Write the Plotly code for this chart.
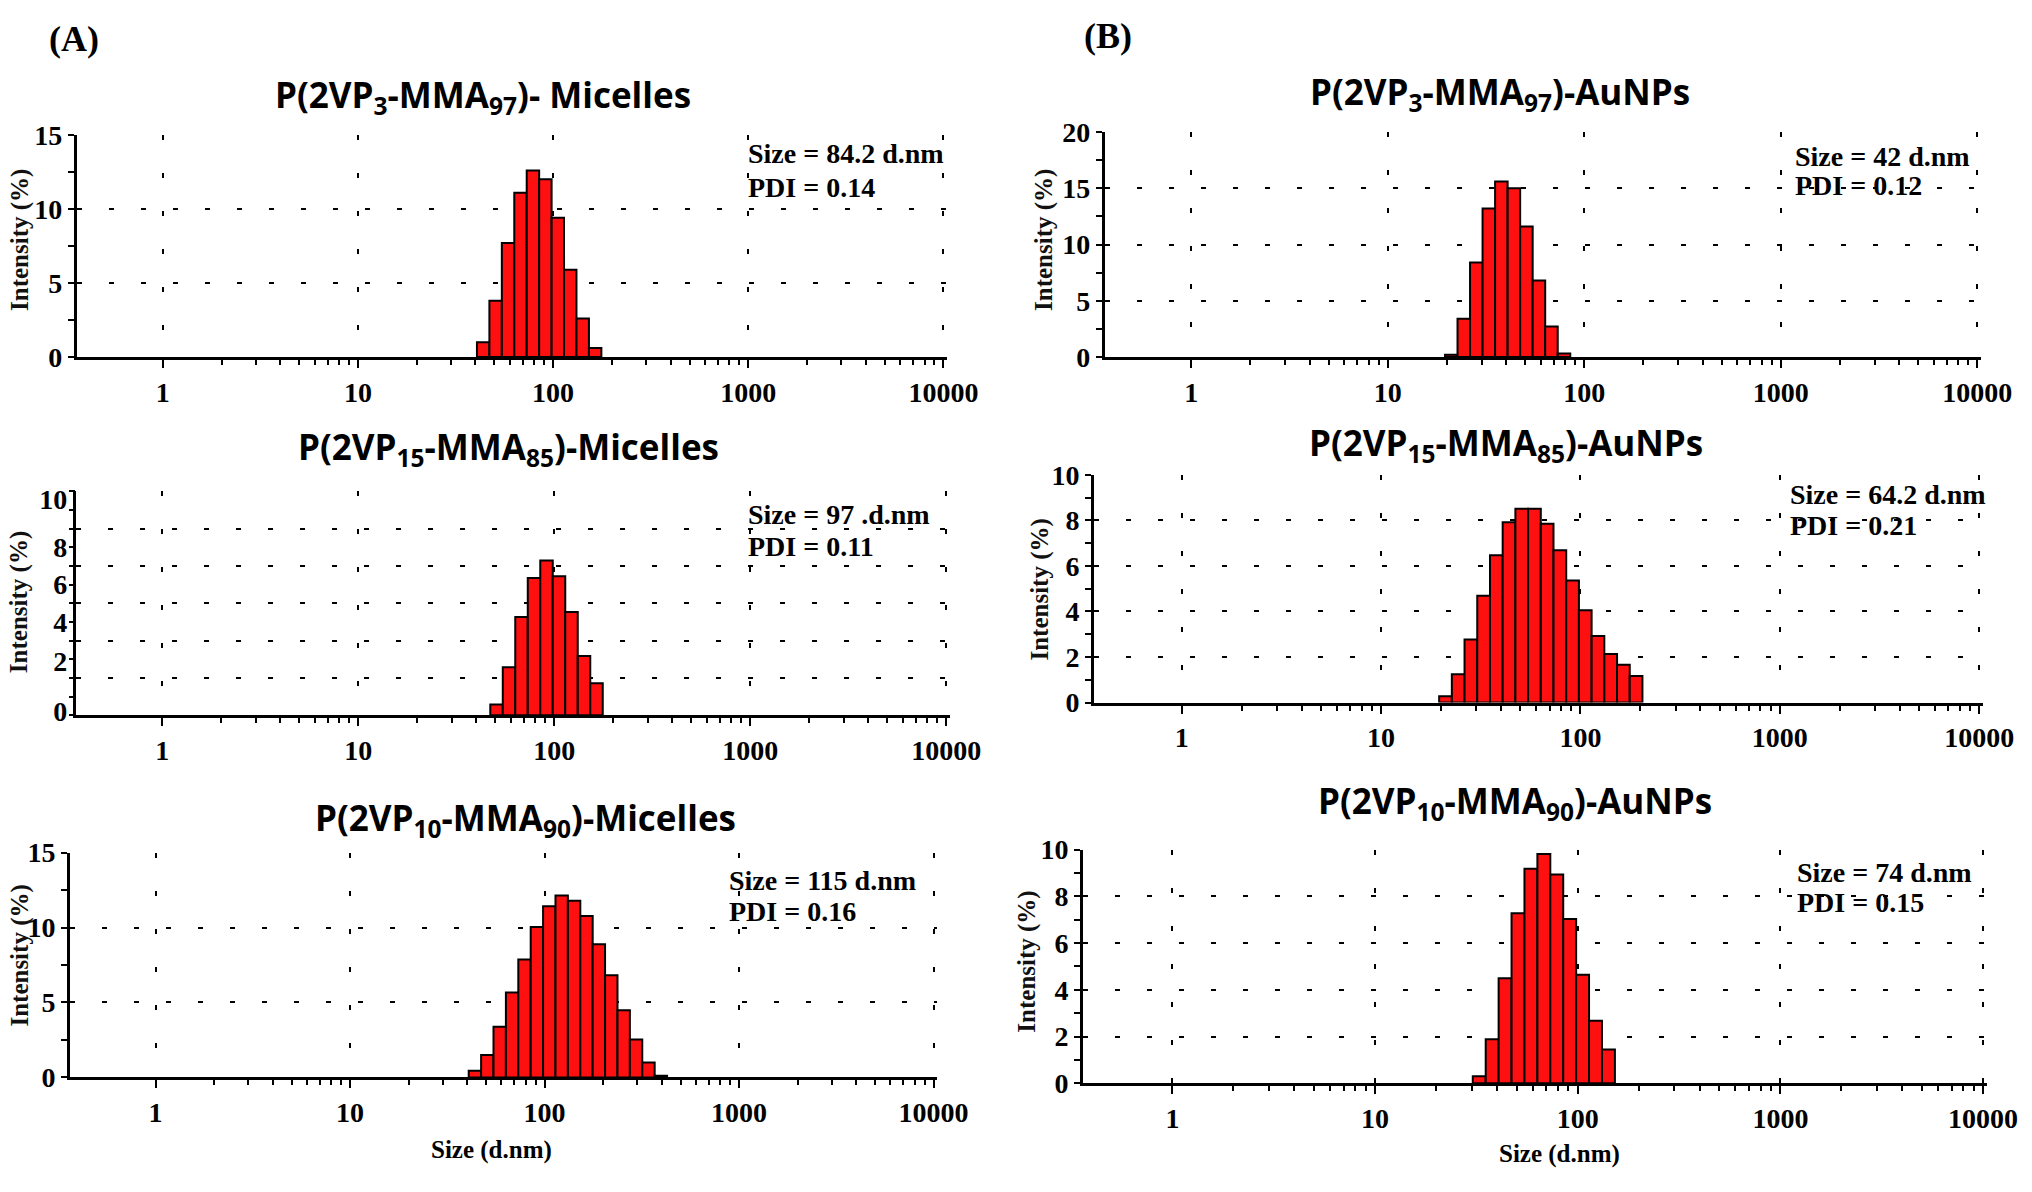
import plotly.graph_objects as go

# ---------------- data ----------------
X_TICK_VALS = [1, 10, 100, 1000, 10000]
X_TICK_TEXT = ["1", "10", "100", "1000", "10000"]

A1_SIZES = [43.82, 50.75, 58.77, 68.06, 78.82, 91.28, 105.7, 122.4, 141.8, 164.2]
A1_INT = [1.0, 3.8, 7.7, 11.1, 12.6, 12.0, 9.4, 5.9, 2.6, 0.6]

A2_SIZES = [50.75, 58.77, 68.06, 78.82, 91.28, 105.7, 122.4, 141.8, 164.2]
A2_INT = [0.58, 2.57, 5.27, 7.36, 8.29, 7.45, 5.53, 3.18, 1.71]
A2_TICK_POS = [0.2, 2.9, 5.0, 7.0, 9.0, 11.6]
A2_TICK_TEXT = ["0", "2", "4", "6", "8", "10"]

A3_SIZES = [43.82, 50.75, 58.77, 68.06, 78.82, 91.28, 105.7, 122.4, 141.8, 164.2,
            190.1, 220.2, 255.0, 295.3, 342.0, 396.1]
A3_INT = [0.44, 1.49, 3.38, 5.67, 7.87, 10.04, 11.42, 12.13, 11.78, 10.76,
          8.89, 6.82, 4.49, 2.53, 1.0, 0.11]

B1_SIZES = [21.04, 24.36, 28.21, 32.67, 37.84, 43.82, 50.75, 58.77, 68.06, 78.82]
B1_INT = [0.2, 3.4, 8.4, 13.2, 15.6, 15.0, 11.6, 6.8, 2.7, 0.3]

B2_SIZES = [21.04, 24.36, 28.21, 32.67, 37.84, 43.82, 50.75, 58.77, 68.06, 78.82,
            91.28, 105.7, 122.4, 141.8, 164.2, 190.1]
B2_INT = [0.28, 1.24, 2.77, 4.69, 6.47, 7.92, 8.51, 8.51, 7.85, 6.69,
          5.36, 4.05, 2.92, 2.13, 1.66, 1.17]

B3_SIZES = [32.67, 37.84, 43.82, 50.75, 58.77, 68.06, 78.82, 91.28, 105.7, 122.4, 141.8]
B3_INT = [0.30, 1.89, 4.49, 7.28, 9.18, 9.81, 8.94, 7.03, 4.65, 2.68, 1.45]

TITLES = [
    "P(2VP<sub>3</sub>-MMA<sub>97</sub>)- Micelles",
    "P(2VP<sub>15</sub>-MMA<sub>85</sub>)-Micelles",
    "P(2VP<sub>10</sub>-MMA<sub>90</sub>)-Micelles",
    "P(2VP<sub>3</sub>-MMA<sub>97</sub>)-AuNPs",
    "P(2VP<sub>15</sub>-MMA<sub>85</sub>)-AuNPs",
    "P(2VP<sub>10</sub>-MMA<sub>90</sub>)-AuNPs",
]
SIZE_TEXT = ["Size = 84.2 d.nm", "Size = 97 .d.nm", "Size = 115 d.nm",
             "Size = 42 d.nm", "Size = 64.2 d.nm", "Size = 74 d.nm"]
PDI_TEXT = ["PDI = 0.14", "PDI = 0.11", "PDI = 0.16",
            "PDI = 0.12", "PDI = 0.21", "PDI = 0.15"]

# Malvern size classes: 70 log-spaced bins from 0.4 to 10000 nm
BIN_RATIO = (10000 / 0.4) ** (1 / 69)

# ---------------- layout (pixel positions on the 2032x1192 page) ----------------
BODY_M = 8
W, H = 2016, 1176
PANELS = [
    dict(sizes=A1_SIZES, vals=A1_INT, x0=78, x1=962, yt=123, yb=351, ymax=15, dt=5, mn=2.5,
         tx=490, ty=83, ax=758, ay1=142, ay2=177, yx=20, yy=231),
    dict(sizes=A2_SIZES, vals=A2_INT, x0=77, x1=965, yt=489, yb=719, ymax=12, dt=2, mn=1,
         tx=516, ty=445, ax=758, ay1=513, ay2=546, yx=20, yy=603),
    dict(sizes=A3_SIZES, vals=A3_INT, x0=71, x1=952, yt=860, yb=1091, ymax=15, dt=5, mn=2.5,
         tx=534, ty=826, ax=738, ay1=889, ay2=921, yx=20, yy=966),
    dict(sizes=B1_SIZES, vals=B1_INT, x0=1122, x1=2012, yt=120, yb=351, ymax=20, dt=5, mn=2.5,
         tx=1523, ty=80, ax=1821, ay1=145, ay2=175, yx=1060, yy=231),
    dict(sizes=B2_SIZES, vals=B2_INT, x0=1111, x1=2014, yt=472, yb=706, ymax=10, dt=2, mn=1,
         tx=1529, ty=441, ax=1816, ay1=492, ay2=524, yx=1056, yy=590),
    dict(sizes=B3_SIZES, vals=B3_INT, x0=1100, x1=2018, yt=857, yb=1097, ymax=10, dt=2, mn=1,
         tx=1539, ty=809, ax=1823, ay1=881, ay2=911, yx=1043, yy=972),
]

SERIF = "Liberation Serif"
SANS = "Open Sans"
GRID_H = "5px,27px"
GRID_V = "5px,33px"
MINOR_X = [d * 10 ** e for e in range(0, 4) for d in range(2, 10)]
TICK_FONT = dict(family=SERIF, size=28, color="black", weight="bold")


def px(x):
    return (x - BODY_M) / W


def py(y):
    return 1 - (y - BODY_M) / H


fig = go.Figure()
annotations = []
layout = dict(width=W, height=H, margin=dict(l=0, r=0, t=0, b=0),
              paper_bgcolor="white", plot_bgcolor="white", showlegend=False)

for i, p in enumerate(PANELS, start=1):
    lo = [s / BIN_RATIO ** 0.5 for s in p["sizes"]]
    hi = [s * BIN_RATIO ** 0.5 for s in p["sizes"]]
    fig.add_trace(go.Bar(
        x=[(a + b) / 2 for a, b in zip(lo, hi)], y=p["vals"],
        width=[b - a for a, b in zip(lo, hi)],
        marker=dict(color="#ff1010", line=dict(color="black", width=2)),
        xaxis=f"x{i}", yaxis=f"y{i}", hoverinfo="skip"))

    xa = dict(type="log", domain=[px(p["x0"]), px(p["x1"])], anchor=f"y{i}",
              range=[-0.44, 4.02], tickmode="array", tickvals=X_TICK_VALS, ticktext=X_TICK_TEXT,
              ticks="outside", ticklen=8, tickwidth=2, tickcolor="black",
              minor=dict(tickmode="array", tickvals=MINOR_X, ticks="outside", ticklen=5,
                         tickwidth=2, tickcolor="black", showgrid=False),
              showgrid=True, gridcolor="black", gridwidth=2, griddash=GRID_V,
              showline=True, linecolor="black", linewidth=3, zeroline=False,
              tickfont=TICK_FONT, fixedrange=True)
    ya = dict(domain=[py(p["yb"]), py(p["yt"])], anchor=f"x{i}", range=[0, p["ymax"]],
              showline=True, linecolor="black", linewidth=3, zeroline=False,
              tickfont=TICK_FONT, fixedrange=True)
    if i == 2:
        # labels on the base axis; gridlines and tick marks on an overlaid axis
        ya.update(tickmode="array", tickvals=A2_TICK_POS, ticktext=A2_TICK_TEXT,
                  ticks="", showgrid=False)
        layout["yaxis7"] = dict(overlaying="y2", anchor="x2", side="left", range=[0, p["ymax"]],
                                tickmode="linear", tick0=0, dtick=p["dt"], showticklabels=False,
                                ticks="outside", ticklen=6, tickwidth=2, tickcolor="black",
                                minor=dict(dtick=p["mn"], ticks="outside", ticklen=6, tickwidth=2,
                                           tickcolor="black", showgrid=False),
                                showgrid=True, gridcolor="black", gridwidth=2, griddash=GRID_H,
                                showline=False, zeroline=False, fixedrange=True)
        fig.add_trace(go.Scatter(x=[X_TICK_VALS[0]], y=[0], mode="markers",
                                 marker=dict(opacity=0), xaxis="x2", yaxis="y7",
                                 hoverinfo="skip"))
    else:
        ya.update(tickmode="linear", tick0=0, dtick=p["dt"],
                  ticks="outside", ticklen=6, tickwidth=2, tickcolor="black",
                  minor=dict(dtick=p["mn"], ticks="outside", ticklen=6, tickwidth=2,
                             tickcolor="black", showgrid=False),
                  showgrid=True, gridcolor="black", gridwidth=2, griddash=GRID_H)
    layout[f"xaxis{i}"] = xa
    layout[f"yaxis{i}"] = ya

    annotations.append(dict(x=px(p["tx"]), y=py(p["ty"]), xref="paper", yref="paper",
                            text=TITLES[i - 1], showarrow=False, xanchor="center", yanchor="middle",
                            font=dict(family=SANS, size=35, color="black", weight="bold")))
    for txt, yy in ((SIZE_TEXT[i - 1], p["ay1"]), (PDI_TEXT[i - 1], p["ay2"])):
        annotations.append(dict(x=px(p["ax"]), y=py(yy), xref="paper", yref="paper", text=txt,
                                showarrow=False, xanchor="left", yanchor="middle",
                                font=dict(family=SERIF, size=28, color="black", weight="bold")))
    annotations.append(dict(x=px(p["yx"]), y=py(p["yy"]), xref="paper", yref="paper",
                            text="Intensity (%)", textangle=-90, showarrow=False,
                            xanchor="center", yanchor="middle",
                            font=dict(family=SERIF, size=25, color="#111111", weight="bold")))

# x-axis titles and panel letters
for txt, x, y, size in (("Size (d.nm)", 499, 1166, 25), ("Size (d.nm)", 1584, 1170, 25),
                        ("(A)", 75, 24, 36), ("(B)", 1125, 21, 36)):
    annotations.append(dict(x=px(x), y=py(y), xref="paper", yref="paper", text=txt,
                            showarrow=False, xanchor="center", yanchor="middle",
                            font=dict(family=SERIF, size=size, color="black", weight="bold")))

layout["annotations"] = annotations
fig.update_layout(**layout)
fig.write_html("out.html")
